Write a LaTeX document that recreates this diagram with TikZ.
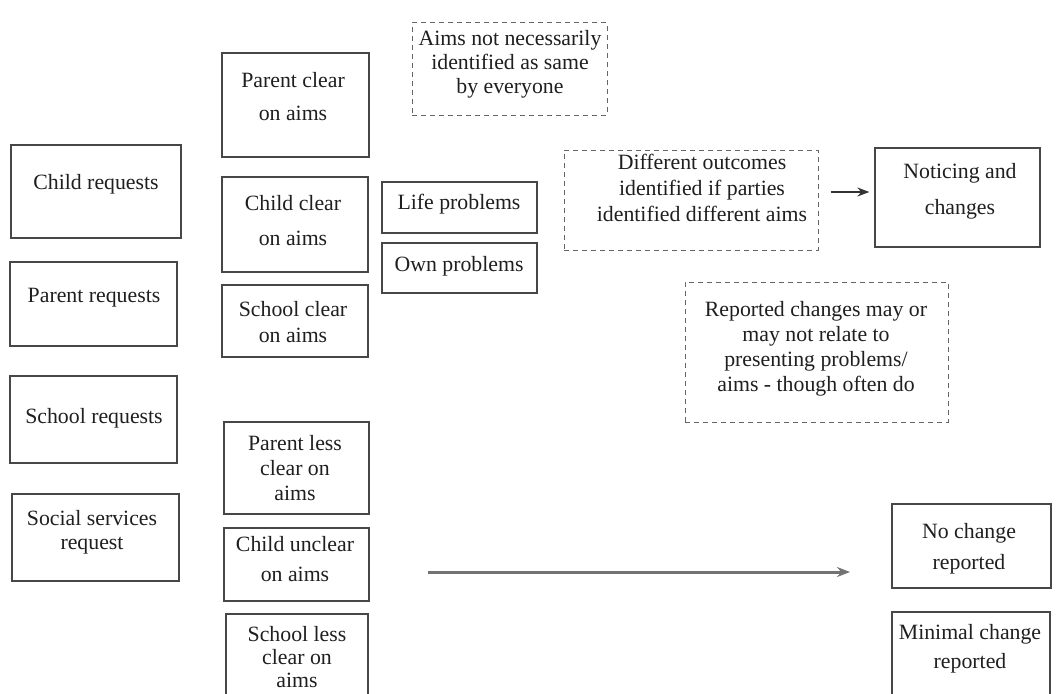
\documentclass[tikz,border=0pt]{standalone}
\usepackage{fontspec}
\setmainfont{Liberation Serif}
\usetikzlibrary{fit,arrows.meta}
\tikzset{
  box/.style={draw=black!72, line width=1.3pt, inner sep=0pt},
  dbox/.style={draw=black!60, line width=1pt, dash pattern=on 5pt off 4pt, inner sep=0pt},
  lbl/.style={font=\fontsize{21.8}{#1}\selectfont, align=center, inner sep=0pt, text=black!88},
  lbl/.default=25,
  conn/.style={-{Stealth[length=12pt,width=9pt]}, draw=black!80, line width=1.6pt},
  bigconn/.style={-{Stealth[length=13pt,width=10pt]}, draw=black!55, line width=3pt},
}
\begin{document}
\begin{tikzpicture}[x=1pt,y=-1pt]
\useasboundingbox (0,0) rectangle (1056,693);
\fill[white] (0,0) rectangle (1056,693);

% left column
\node[box, fit={(11,145) (181,238)}] (creq) {};
\node[lbl] (creq-t) at (96,184) {Child requests};
\node[box, fit={(10,262) (177,346)}] (preq) {};
\node[lbl] (preq-t) at (94,298) {Parent requests};
\node[box, fit={(10,376) (177,463)}] (sreq) {};
\node[lbl] (sreq-t) at (94,418) {School requests};
\node[box, fit={(12,494) (179,581)}] (ssreq) {};
\node[lbl=24] (ssreq-t) at (92,532) {Social services\\request};

% middle column
\node[box, fit={(222,53) (369,157)}] (pclear) {};
\node[lbl=33] (pclear-t) at (293,97) {Parent clear\\on aims};
\node[box, fit={(222,177) (368,272)}] (cclear) {};
\node[lbl=35] (cclear-t) at (293,221) {Child clear\\on aims};
\node[box, fit={(222,285) (368,357)}] (sclear) {};
\node[lbl=26] (sclear-t) at (293,322) {School clear\\on aims};
\node[box, fit={(224,422) (369,514)}] (pless) {};
\node[lbl=25] (pless-t) at (295,468) {Parent less\\clear on\\aims};
\node[box, fit={(224,528) (369,601)}] (cuncl) {};
\node[lbl=30] (cuncl-t) at (295,559) {Child unclear\\on aims};
\node[box, fit={(226,614) (368,710)}] (sless) {};
\node[lbl=23] (sless-t) at (297,657) {School less\\clear on\\aims};

% problems
\node[box, fit={(382,182) (537,233)}] (life) {};
\node[lbl] (life-t) at (459,204) {Life problems};
\node[box, fit={(382,243) (537,293)}] (own) {};
\node[lbl] (own-t) at (459,266) {Own problems};

% dashed notes
\node[dbox, fit={(412,23) (607,115)}] (aims) {};
\node[lbl=24] (aims-t) at (510,64) {Aims not necessarily\\identified as same\\by everyone};
\node[dbox, fit={(564,150) (818,250)}] (diff) {};
\node[lbl=26] (diff-t) at (702,188) {Different outcomes\\identified if parties\\identified different aims};
\node[dbox, fit={(685,282) (948,422)}] (rep) {};
\node[lbl=25] (rep-t) at (816,349) {Reported changes may or\\may not relate to\\presenting problems/\\aims - though often do};

% right column
\node[box, fit={(875,148) (1040,247)}] (notice) {};
\node[lbl=36] (notice-t) at (960,191) {Noticing and\\changes};
\node[box, fit={(892,504) (1051,588)}] (nochg) {};
\node[lbl=31] (nochg-t) at (969,549) {No change\\reported};
\node[box, fit={(892,612) (1050,710)}] (minchg) {};
\node[lbl=29] (minchg-t) at (970,649) {Minimal change\\reported};

% connectors
\draw[conn, shorten <=12pt, shorten >=5pt] (diff.east |- 0,192) -- (notice.west |- 0,192);
\coordinate (bstart) at (428,572);
\coordinate (bend) at (850,572);
\draw[bigconn] (bstart) -- (bend);
\end{tikzpicture}
\end{document}
